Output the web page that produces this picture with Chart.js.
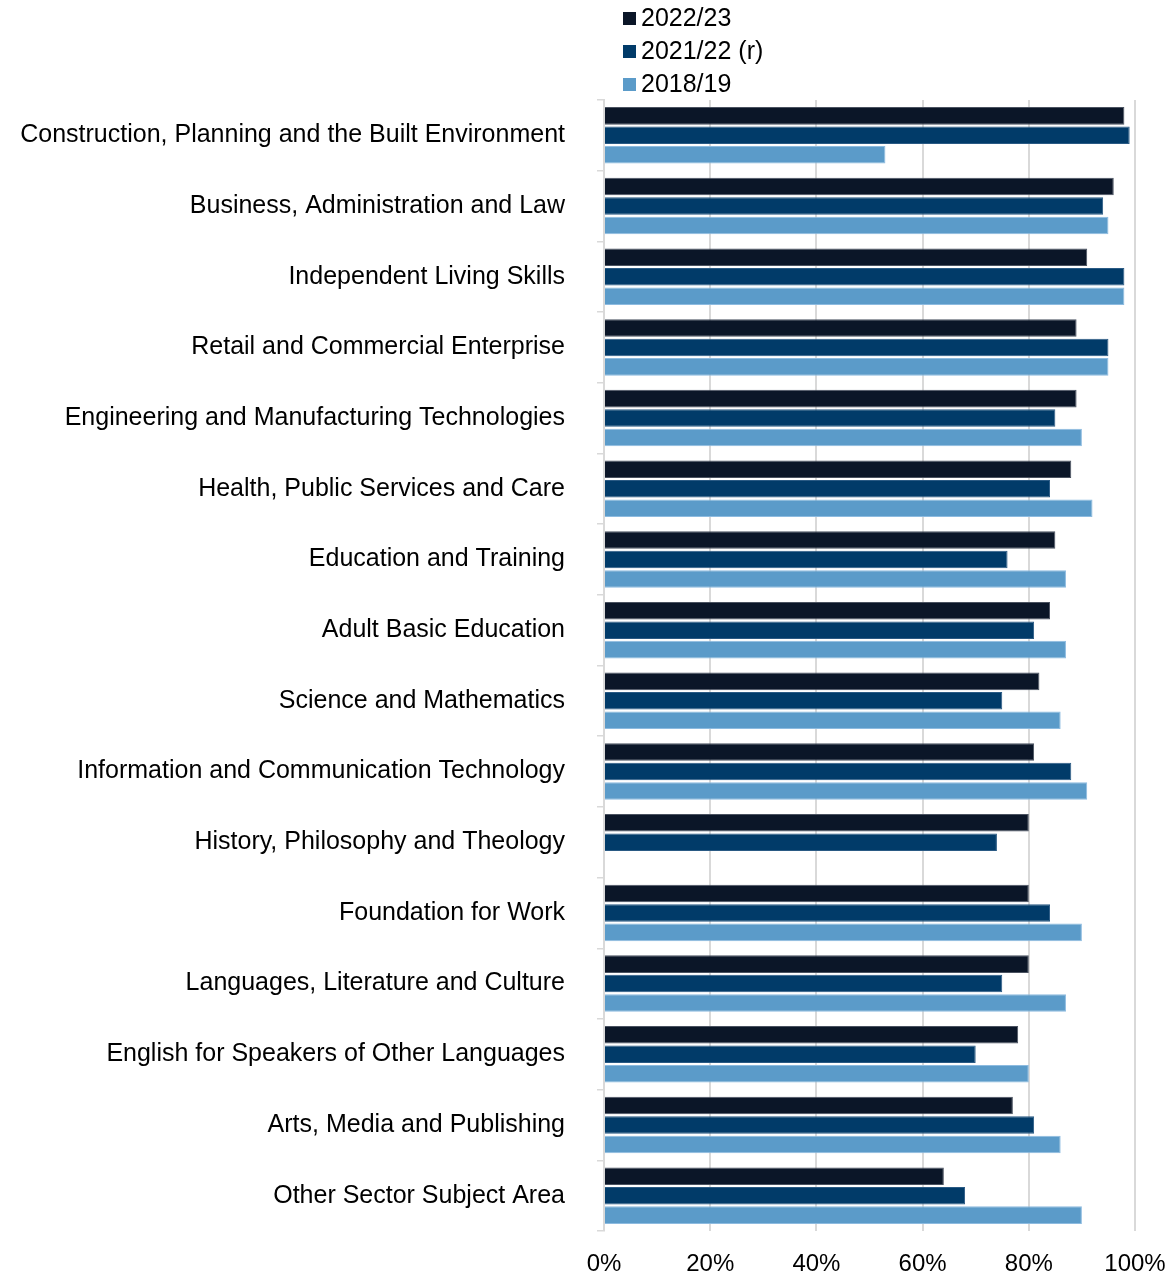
<!DOCTYPE html>
<html>
<head>
<meta charset="utf-8">
<script src="https://cdn.jsdelivr.net/npm/chart.js@4/dist/chart.umd.min.js"></script>
<style>
  html, body { margin: 0; padding: 0; background: #ffffff; }
  canvas { display: block; }
</style>
</head>
<body>
<canvas id="chart" width="1169" height="1278"></canvas>
<script>
// Sector subject areas, top to bottom
const categories = [
  'Construction, Planning and the Built Environment',
  'Business, Administration and Law',
  'Independent Living Skills',
  'Retail and Commercial Enterprise',
  'Engineering and Manufacturing Technologies',
  'Health, Public Services and Care',
  'Education and Training',
  'Adult Basic Education',
  'Science and Mathematics',
  'Information and Communication Technology',
  'History, Philosophy and Theology',
  'Foundation for Work',
  'Languages, Literature and Culture',
  'English for Speakers of Other Languages',
  'Arts, Media and Publishing',
  'Other Sector Subject Area'
];

const seriesNames = ['2022/23', '2021/22 (r)', '2018/19'];

// Percentages per sector subject area
const values2223 = [98, 96, 91, 89, 89, 88, 85, 84, 82, 81, 80, 80, 80, 78, 77, 64];
const values2122 = [99, 94, 98, 95, 85, 84, 76, 81, 75, 88, 74, 84, 75, 70, 81, 68];
const values1819 = [53, 95, 98, 95, 90, 92, 87, 87, 86, 91, null, 90, 87, 80, 86, 90];

const xTickValues = [0, 20, 40, 60, 80, 100];

const FONT = '"Liberation Sans", Arial, Helvetica, sans-serif';
const colors = ['#0b1628', '#013b69', '#5b9bc9'];
const borders = ['#4a5260', '#2a5a84', '#8dbbe0'];

// Legend stacked vertically above the plot
const stackedLegend = {
  id: 'stackedLegend',
  afterDraw(chart) {
    const ctx = chart.ctx;
    ctx.save();
    ctx.font = '25px ' + FONT;
    ctx.textBaseline = 'middle';
    ctx.textAlign = 'left';
    chart.data.datasets.forEach((ds, i) => {
      const cy = 18.5 + i * 33;
      ctx.fillStyle = ds.backgroundColor;
      ctx.fillRect(623, cy - 6.5, 13, 13);
      ctx.fillStyle = '#000000';
      ctx.fillText(ds.label, 641, cy + 1);
    });
    ctx.restore();
  }
};

const seriesValues = [values2223, values2122, values1819];

new Chart(document.getElementById('chart'), {
  type: 'bar',
  data: {
    labels: categories,
    datasets: seriesNames.map((name, i) => ({
      label: name,
      data: seriesValues[i],
      backgroundColor: colors[i],
      borderColor: borders[i],
      borderWidth: 1,
      categoryPercentage: 0.826,
      barPercentage: 0.9
    }))
  },
  options: {
    indexAxis: 'y',
    responsive: false,
    animation: false,
    devicePixelRatio: 1,
    layout: { padding: { top: 100, right: 34, bottom: 0, left: 0 } },
    plugins: {
      legend: { display: false },
      tooltip: { enabled: false }
    },
    scales: {
      x: {
        min: 0,
        max: 100,
        afterBuildTicks(scale) {
          scale.ticks = xTickValues.map(v => ({ value: v }));
        },
        afterFit(scale) {
          scale.height = 40;
          scale.paddingLeft = 0;
          scale.paddingRight = 0;
        },
        ticks: {
          callback: v => v + '%',
          font: { family: FONT, size: 24 },
          color: '#000000',
          padding: 19,
          maxRotation: 0
        },
        grid: {
          color: '#d9d9d9',
          lineWidth: 2,
          drawTicks: false
        },
        border: { display: false }
      },
      y: {
        afterFit(scale) { scale.width = 604; },
        ticks: {
          font: { family: FONT, size: 25 },
          color: '#000000',
          padding: 32,
          autoSkip: false
        },
        grid: {
          drawOnChartArea: false,
          drawTicks: true,
          tickLength: 7,
          offset: true,
          color: '#d9d9d9',
          lineWidth: 1.5
        },
        border: { display: true, color: '#d9d9d9', width: 2 }
      }
    }
  },
  plugins: [stackedLegend]
});
</script>
</body>
</html>
